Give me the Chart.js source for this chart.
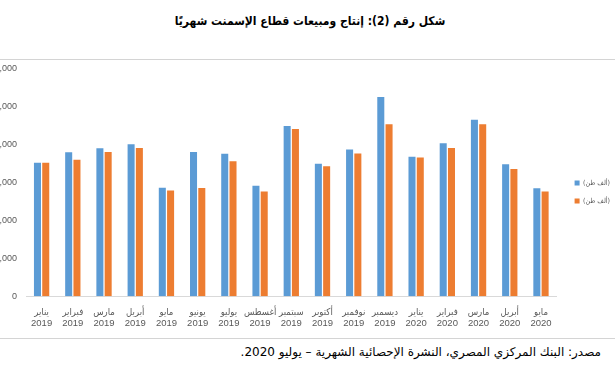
<!DOCTYPE html>
<html>
<head>
<meta charset="utf-8">
<script src="https://cdn.jsdelivr.net/npm/chart.js@4.4.1/dist/chart.umd.min.js"></script>
<style>
  html, body { margin: 0; padding: 0; background: #fff; overflow: hidden; }
  body { width: 615px; height: 382px; position: relative; }
  #title {
    position: absolute; left: 0; top: 14px; width: 620px; text-align: center;
    font-family: "DejaVu Sans Condensed", "DejaVu Sans", sans-serif; font-weight: bold; font-size: 12px; color: #000;
    direction: rtl;
  }
  .rule { position: absolute; left: 0; width: 615px; height: 1px; background: #d4d4d4; }
  #chartBox { position: absolute; left: -6px; top: 62px; width: 626px; height: 270px; }
  #source {
    position: absolute; right: 14px; top: 345px; direction: rtl; text-align: right;
    font-family: "DejaVu Sans", sans-serif; font-size: 12px; color: #000; white-space: nowrap;
  }
</style>
</head>
<body>
<div id="title">شكل رقم (2): إنتاج ومبيعات قطاع الإسمنت شهريًا</div>
<div class="rule" style="top:59px"></div>
<div id="chartBox"><canvas id="barChart"></canvas></div>
<div class="rule" style="top:338px"></div>
<div id="source">مصدر: البنك المركزي المصري، النشرة الإحصائية الشهرية – يوليو 2020.</div>

<script>
// months and years on the x axis
var months = ['يناير', 'فبراير', 'مارس', 'أبريل', 'مايو', 'يونيو', 'يوليو', 'أغسطس', 'سبتمبر',
  'أكتوبر', 'نوفمبر', 'ديسمبر', 'يناير', 'فبراير', 'مارس', 'أبريل', 'مايو'];
var years = ['2019', '2019', '2019', '2019', '2019', '2019', '2019', '2019', '2019',
  '2019', '2019', '2019', '2020', '2020', '2020', '2020', '2020'];

// thousand tons
var production = [3515, 3790, 3895, 4000, 2855, 3800, 3750, 2910, 4480, 3490, 3865, 5245, 3670, 4025, 4650, 3475, 2840];
var sales = [3515, 3595, 3795, 3900, 2785, 2850, 3555, 2760, 4405, 3420, 3760, 4530, 3650, 3900, 4530, 3350, 2760];

var seriesLabels = ['(ألف طن)', '(ألف طن)'];
var yTicks = { min: 0, max: 6000, step: 1000 };

var labels = months.map(function (m, i) { return [m, years[i]]; });

var ChartController = {
  init: function () {
    ChartController.renderChart();
  },

  renderChart: function () {
    var ctx = document.getElementById('barChart');
    new Chart(ctx, {
      type: 'bar',
      data: {
        labels: labels,
        datasets: [
          {
            label: seriesLabels[0],
            data: production,
            backgroundColor: '#5b9bd5',
            categoryPercentage: 0.53,
            barPercentage: 0.85,
          },
          {
            label: seriesLabels[1],
            data: sales,
            backgroundColor: '#ed7d31',
            categoryPercentage: 0.53,
            barPercentage: 0.85,
          },
        ]
      },
      options: {
        responsive: true,
        maintainAspectRatio: false,
        animation: false,
        layout: { padding: { top: 6, bottom: 0, left: 0, right: 0 } },
        plugins: {
          legend: {
            display: true,
            position: 'right',
            align: 'start',
            // blank title only pushes the items down
            title: {
              display: true,
              text: ' ',
              font: { size: 8 },
              padding: { top: 0, bottom: 91 },
            },
            labels: {
              boxWidth: 5,
              boxHeight: 5,
              padding: 11,
              color: '#595959',
              font: { family: 'DejaVu Sans Condensed, DejaVu Sans', size: 7 },
            },
          },
          tooltip: { enabled: false },
        },
        scales: {
          x: {
            grid: { display: false },
            border: { color: '#d9d9d9' },
            ticks: {
              color: '#595959',
              font: { family: 'Liberation Sans, DejaVu Sans Condensed', size: 9.5, lineHeight: 1.15 },
              maxRotation: 0,
              autoSkip: false,
              padding: 3,
            },
          },
          y: {
            min: yTicks.min,
            max: yTicks.max,
            grid: { display: false },
            border: { display: false },
            ticks: {
              stepSize: yTicks.step,
              color: '#595959',
              font: { family: 'Liberation Sans', size: 9 },
              padding: 1,
            },
            afterFit: function (scale) { scale.width = 32; },
          },
          // empty spacer between plot and legend
          gap: {
            position: 'right',
            display: true,
            grid: { display: false },
            border: { display: false },
            ticks: { display: false },
            afterFit: function (scale) { scale.width = 7; },
          },
        },
      }
    });
  },
};

ChartController.init();
</script>
</body>
</html>
